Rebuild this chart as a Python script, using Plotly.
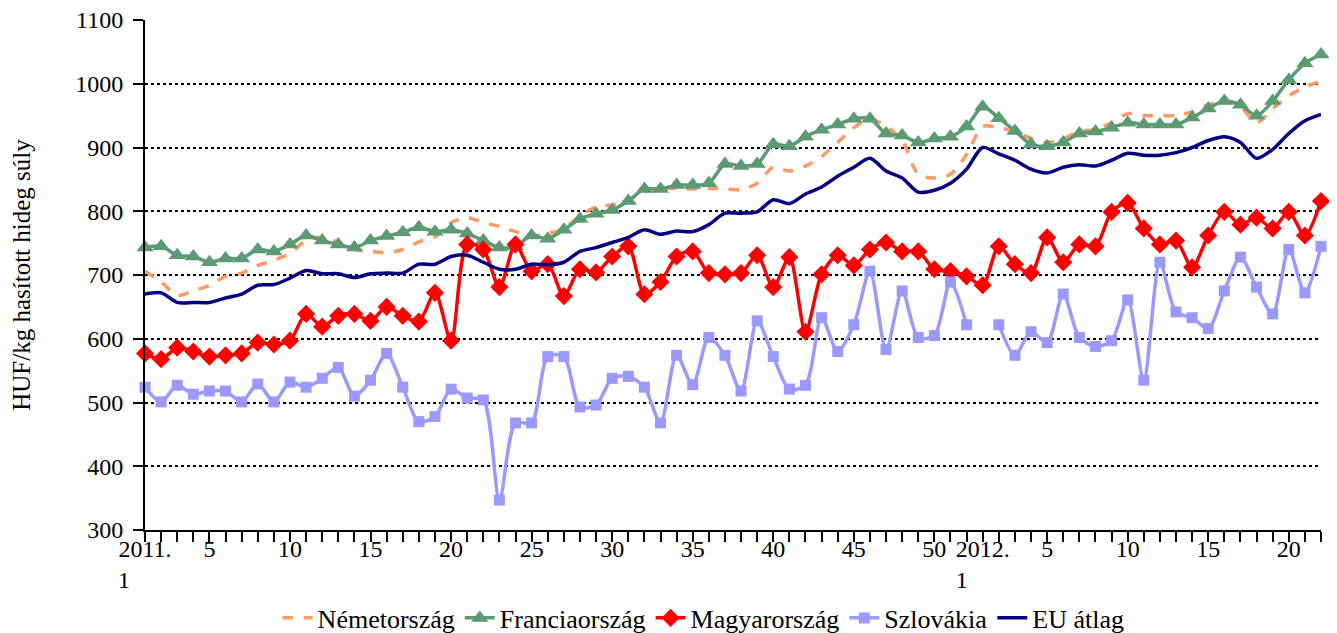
import plotly.graph_objects as go

# x categories: 2011 weeks 1-52, 2012 weeks 1-22
weeks_2011 = list(range(1, 53))
weeks_2012 = list(range(1, 23))
categories = [f"2011. {w}" for w in weeks_2011] + [f"2012. {w}" for w in weeks_2012]
x_idx = list(range(len(categories)))

nemet = [706, 689, 668, 675, 684, 698, 703, 715, 723, 734,
         754, 759, 751, 740, 737, 735, 740, 752, 760, 782,
         790, 782, 776, 768, 762, 765, 773, 793, 807, 810,
         818, 830, 835, 836, 835, 836, 835, 834, 844, 869,
         863, 871, 886, 908, 931, 945, 933, 911, 858, 852,
         858, 889, 933, 931, 925, 914, 908, 914, 925, 928,
         939, 953, 950, 950, 950, 956, 967, 973, 964, 939,
         961, 981, 995, 1004]

francia = [743, 745, 731, 729, 720, 726, 726, 740, 737, 748,
           762, 754, 748, 743, 754, 761, 767, 775, 768, 771,
           765, 754, 743, 745, 762, 757, 771, 788, 796, 802,
           816, 835, 835, 841, 841, 844, 874, 871, 874, 905,
           902, 917, 928, 936, 945, 945, 922, 919, 908, 914,
           917, 933, 964, 946, 926, 905, 902, 908, 922, 925,
           931, 939, 936, 936, 936, 947, 961, 973, 967, 950,
           973, 1006, 1032, 1046]

magyar = [577, 568, 586, 580, 572, 574, 577, 594, 591, 597,
          639, 619, 636, 639, 628, 650, 636, 627, 672, 597,
          748, 740, 681, 748, 706, 717, 667, 709, 704, 729,
          745, 670, 689, 729, 737, 703, 701, 703, 731, 681,
          728, 611, 701, 731, 715, 740, 751, 737, 737, 709,
          706, 698, 684, 745, 717, 703, 759, 720, 748, 745,
          799, 813, 773, 748, 754, 712, 762, 799, 779, 790,
          773, 799, 762, 816]

szlovakia = [524, 501, 527, 513, 518, 518, 501, 529, 501, 532,
             524, 538, 555, 510, 535, 577, 524, 470, 478, 521,
             507, 504, 347, 468, 468, 572, 572, 493, 496, 538,
             541, 524, 468, 574, 528, 602, 574, 518, 628, 572,
             521, 527, 633, 580, 622, 706, 583, 675, 602, 605,
             689, 622, None, 622, 574, 611, 594, 670, 602, 588,
             597, 661, 535, 720, 642, 633, 616, 675, 728, 681,
             639, 740, 672, 745]

eu_atlag = [670, 672, 657, 657, 657, 664, 670, 684, 685, 695,
            707, 702, 702, 696, 702, 703, 703, 717, 717, 729,
            731, 720, 709, 709, 717, 716, 720, 737, 743, 751,
            759, 771, 764, 769, 768, 779, 797, 797, 799, 818,
            812, 827, 838, 855, 869, 883, 863, 852, 830, 833,
            844, 866, 900, 890, 880, 866, 860, 869, 873, 871,
            880, 891, 888, 888, 892, 900, 911, 917, 908, 883,
            897, 922, 942, 952]

y_ticks = [300, 400, 500, 600, 700, 800, 900, 1000, 1100]

# tick labels: only selected weeks are labelled
PAD = "\u00a0" * 7
tick_text = []
for i, c in enumerate(categories):
    year, wk = c.split(". ")
    wk = int(wk)
    if wk == 1:
        tick_text.append(f"{year}.<br>1{PAD}")
    elif wk % 5 == 0:
        tick_text.append(str(wk))
    else:
        tick_text.append("")

FONT = "Liberation Serif"

fig = go.Figure()
fig.add_trace(go.Scatter(x=x_idx, y=nemet, name="Németország", mode="lines",
                         line=dict(color="#FF9966", width=3.5, dash="dash", shape="spline", smoothing=0.8)))
fig.add_trace(go.Scatter(x=x_idx, y=francia, name="Franciaország", mode="lines+markers",
                         line=dict(color="#5B9A72", width=3.5, shape="spline", smoothing=0.8),
                         marker=dict(symbol="triangle-up", size=15, color="#5B9A72")))
fig.add_trace(go.Scatter(x=x_idx, y=magyar, name="Magyarország", mode="lines+markers",
                         line=dict(color="#FF0000", width=3.5, shape="spline", smoothing=0.8),
                         marker=dict(symbol="diamond", size=14, color="#FF0000")))
fig.add_trace(go.Scatter(x=x_idx, y=szlovakia, name="Szlovákia", mode="lines+markers",
                         connectgaps=False,
                         line=dict(color="#9999FF", width=3.5, shape="spline", smoothing=0.8),
                         marker=dict(symbol="square", size=11, color="#9999FF")))
fig.add_trace(go.Scatter(x=x_idx, y=eu_atlag, name="EU átlag", mode="lines",
                         line=dict(color="#000080", width=3.5, shape="spline", smoothing=0.8)))

fig.update_traces(cliponaxis=False)

fig.update_layout(
    width=1329, height=625,
    margin=dict(l=137, r=16, t=12, b=103, autoexpand=False),
    paper_bgcolor="white", plot_bgcolor="white",
    font=dict(family=FONT, size=23, color="black"),
    legend=dict(orientation="h", x=0.475, xanchor="center", y=-0.1725, yanchor="middle",
                font=dict(family=FONT, size=26, color="black"),
                bgcolor="rgba(0,0,0,0)", itemwidth=30, tracegroupgap=0),
    xaxis=dict(range=[0, 73], tickmode="array", tickvals=x_idx, ticktext=tick_text,
               automargin=False, ticklabelstandoff=-14,
               showgrid=False, zeroline=False, showline=True, linecolor="black", linewidth=2,
               ticks="outside", ticklen=10, tickwidth=2, tickcolor="black", tickangle=0,
               tickfont=dict(family=FONT, size=24, color="black")),
    yaxis=dict(range=[300, 1100.01], tickmode="array", tickvals=y_ticks, automargin=False,
               ticklabeloverflow="allow",
               showgrid=True, gridcolor="black", gridwidth=2, griddash="dot",
               zeroline=False, showline=True, linecolor="black", linewidth=2,
               ticks="outside", ticklen=10, tickwidth=2, tickcolor="black",
               ticklabelstandoff=5,
               tickfont=dict(family=FONT, size=24, color="black"),
               title=dict(text="HUF/kg hasított hideg súly", standoff=42,
                          font=dict(family=FONT, size=25, color="black"))),
)

fig.write_html("out.html")
